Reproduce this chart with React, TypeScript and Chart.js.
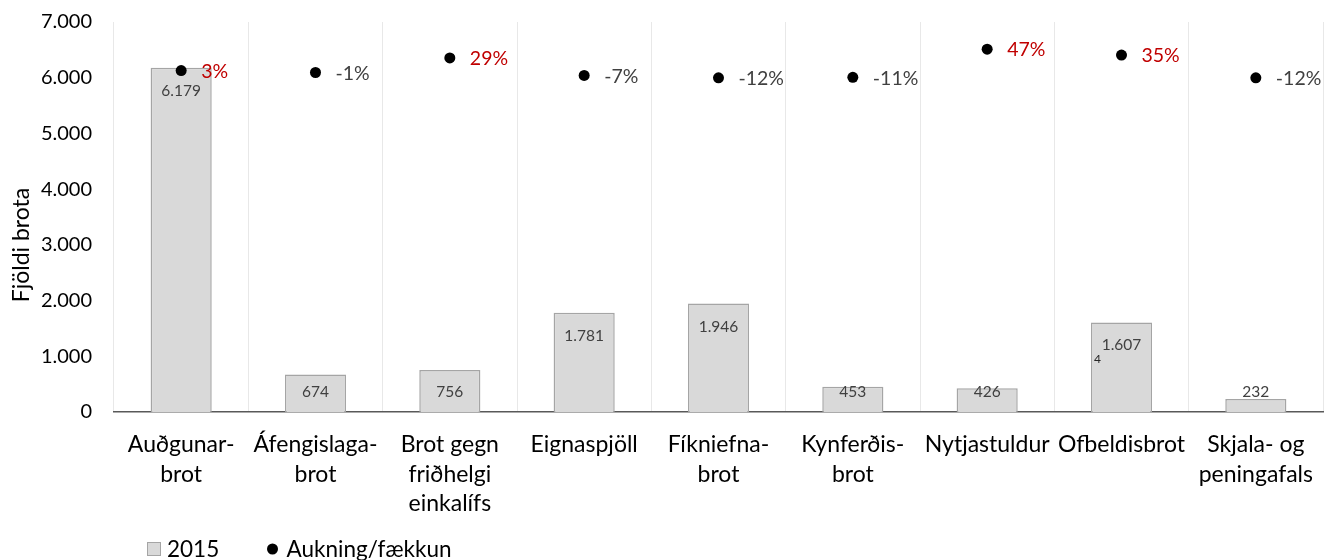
import React, { useEffect, useRef } from 'react';
import { Chart, registerables } from 'chart.js';

Chart.register(...registerables);

const categories: string[][] = [
  ['Auðgunar-', 'brot'],
  ['Áfengislaga-', 'brot'],
  ['Brot gegn', 'friðhelgi', 'einkalífs'],
  ['Eignaspjöll'],
  ['Fíkniefna-', 'brot'],
  ['Kynferðis-', 'brot'],
  ['Nytjastuldur'],
  ['Ofbeldisbrot'],
  ['Skjala- og', 'peningafals'],
];
const counts2015 = [6179, 674, 756, 1781, 1946, 453, 426, 1607, 232];
const changePct = [3, -1, 29, -7, -12, -11, 47, 35, -12];
const yTickValues = [0, 1000, 2000, 3000, 4000, 5000, 6000, 7000];
const seriesNames = ['2015', 'Aukning/fækkun'];
const yAxisTitle = 'Fjöldi brota';
const strayLabelIndex = 7;
const strayLabelText = '4';

const FONT = 'Lato, Carlito, Calibri, "Noto Sans", sans-serif';

const fmt = (n: number) => String(n).replace(/\B(?=(\d{3})+(?!\d))/g, '.');

const labelsPlugin = {
  id: 'customLabels',
  afterDatasetsDraw(chart: any) {
    const ctx = chart.ctx;
    const area = chart.chartArea;
    const barMeta = chart.getDatasetMeta(0);
    ctx.save();
    ctx.textBaseline = 'middle';
    ctx.textAlign = 'center';
    ctx.font = `15.5px ${FONT}`;
    ctx.fillStyle = '#404040';
    barMeta.data.forEach((bar: any, i: number) => {
      const y = Math.min(bar.y + 23, area.bottom - 20);
      ctx.fillText(fmt(counts2015[i]), bar.x, y);
      if (i === strayLabelIndex) {
        ctx.save();
        ctx.font = `12px ${FONT}`;
        ctx.textAlign = 'left';
        ctx.fillStyle = '#262626';
        ctx.fillText(strayLabelText, bar.x - bar.width / 2 + 3, y + 14);
        ctx.restore();
      }
    });
    const ptMeta = chart.getDatasetMeta(1);
    ctx.textAlign = 'left';
    ctx.font = `19.5px ${FONT}`;
    ptMeta.data.forEach((pt: any, i: number) => {
      const v = changePct[i];
      ctx.fillStyle = v > 0 ? '#c00000' : '#404040';
      ctx.fillText(`${v}%`, pt.x + 20, pt.y + 1);
    });
    ctx.restore();
  },
  afterDraw(chart: any) {
    const ctx = chart.ctx;
    ctx.save();
    // y axis title
    ctx.translate(22, 245);
    ctx.rotate(-Math.PI / 2);
    ctx.fillStyle = '#000';
    ctx.font = `23px ${FONT}`;
    ctx.textAlign = 'center';
    ctx.textBaseline = 'middle';
    ctx.fillText(yAxisTitle, 0, 0);
    ctx.restore();

    ctx.save();
    // legend
    const cy = 549;
    ctx.fillStyle = '#d9d9d9';
    ctx.strokeStyle = '#a5a5a5';
    ctx.lineWidth = 1;
    ctx.fillRect(147.5, cy - 6.5, 13, 13);
    ctx.strokeRect(147.5, cy - 6.5, 13, 13);
    ctx.fillStyle = '#000';
    ctx.font = `22.5px ${FONT}`;
    ctx.textBaseline = 'middle';
    ctx.textAlign = 'left';
    ctx.fillText(seriesNames[0], 167, cy + 1);
    ctx.beginPath();
    ctx.arc(272.5, cy, 5.5, 0, Math.PI * 2);
    ctx.fill();
    ctx.fillText(seriesNames[1], 286.5, cy + 1);
    ctx.restore();
  },
};

export default function App() {
  const ref = useRef<HTMLCanvasElement>(null);
  useEffect(() => {
    if (!ref.current) return;
    const chart = new Chart(ref.current, {
      type: 'bar',
      data: {
        labels: categories as any,
        datasets: [
          {
            type: 'bar',
            label: seriesNames[0],
            data: counts2015,
            backgroundColor: '#d9d9d9',
            borderColor: '#a5a5a5',
            borderWidth: 1.5,
            barPercentage: 0.455,
            categoryPercentage: 1,
            order: 2,
            yAxisID: 'y',
          } as any,
          {
            type: 'line',
            label: seriesNames[1],
            data: changePct,
            showLine: false,
            pointRadius: 5.5,
            pointHoverRadius: 5.5,
            pointBackgroundColor: '#000',
            pointBorderColor: '#000',
            pointBorderWidth: 0,
            order: 1,
            yAxisID: 'y2',
          } as any,
        ],
      },
      options: {
        animation: false,
        responsive: true,
        maintainAspectRatio: false,
        layout: { padding: { top: 22, right: 8, left: 0, bottom: 0 } },
        plugins: { legend: { display: false }, tooltip: { enabled: false } },
        scales: {
          x: {
            grid: { offset: true, color: '#e8e8e8', lineWidth: 1, drawTicks: false },
            border: { color: '#595959', width: 1.5 },
            ticks: {
              color: '#000',
              font: { family: FONT, size: 23, lineHeight: 1.28 },
              padding: 18,
              maxRotation: 0,
              autoSkip: false,
            },
            afterFit: (s: any) => { s.height = 148; s.paddingLeft = 0; s.paddingRight = 0; },
          },
          y: {
            min: yTickValues[0],
            max: yTickValues[yTickValues.length - 1],
            afterBuildTicks: (s: any) => { s.ticks = yTickValues.map((v) => ({ value: v })); },
            grid: { display: false, drawTicks: false },
            border: { display: false },
            ticks: {
              color: '#000',
              font: { family: FONT, size: 20 },
              padding: 22,
              callback: (v: any) => fmt(Number(v)),
            },
            afterFit: (s: any) => { s.width = 114; s.paddingTop = 0; s.paddingBottom = 0; },
          },
          y2: {
            display: false,
            min: -700,
            max: 103,
          },
        },
      },
      plugins: [labelsPlugin],
    });
    return () => chart.destroy();
  }, []);
  return (
    <div style={{ position: 'absolute', left: 0, top: 0, width: '1331px', height: '560px' }}>
      <canvas ref={ref} />
    </div>
  );
}
